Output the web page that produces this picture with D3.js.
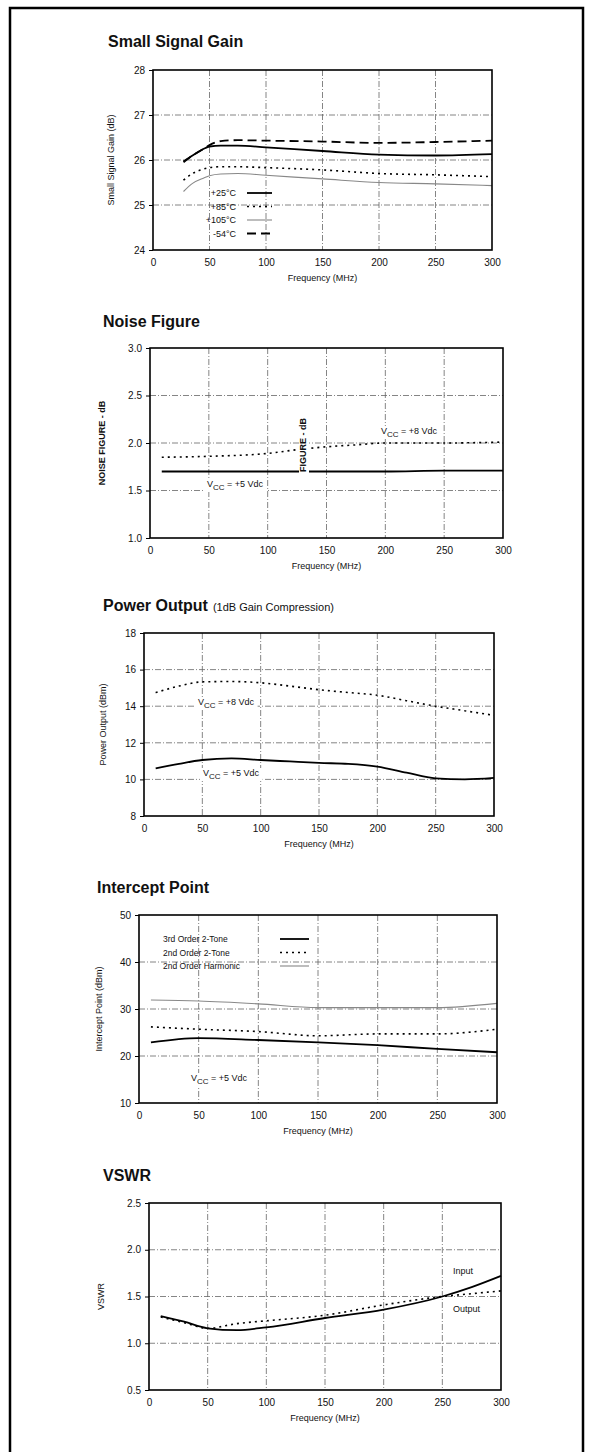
<!DOCTYPE html>
<html>
    <head>
        <title>Amplifier Typical Performance</title>
        <script src="https://d3js.org/d3.v7.min.js"></script>
        <style>
            body { margin: 0; background: #fff; }
            text { font-family: 'Liberation Sans', Arial, sans-serif; fill: #111; }
            .title { font-size: 16px; font-weight: bold; }
            .subtitle { font-size: 11px; font-weight: normal; }
            .tick-label { font-size: 10px; }
            .axis-title { font-size: 9px; }
            .note { font-size: 9px; }
            .grid { stroke: #666; stroke-width: 0.8px; stroke-dasharray: 6,2,1,2; }
            .plot-frame { fill: none; stroke: #000; stroke-width: 1.6px; }
            .line { fill: none; }
        </style>
    </head>
    <body>
        <div id="chart"></div>
        <script>
            // ---- Small Signal Gain ----
            const gainFreq = [27, 35, 45, 50, 60, 75, 100, 150, 200, 250, 300];
            const gain25 = [25.97, 26.1, 26.25, 26.3, 26.32, 26.32, 26.28, 26.2, 26.12, 26.1, 26.13];
            const gain85 = [25.55, 25.7, 25.8, 25.83, 25.85, 25.85, 25.83, 25.78, 25.7, 25.67, 25.63];
            const gain105 = [25.3, 25.48, 25.6, 25.65, 25.69, 25.7, 25.66, 25.58, 25.5, 25.47, 25.43];
            const gainM54 = [25.95, 26.1, 26.25, 26.33, 26.42, 26.44, 26.43, 26.41, 26.38, 26.4, 26.43];
            const gainLegend = ['+25\u00b0C', '+85\u00b0C', '+105\u00b0C', '-54\u00b0C'];
            const gainYTicks = [24, 25, 26, 27, 28];

            // ---- Noise Figure ----
            const noiseFreq = [10, 50, 100, 125, 150, 175, 200, 250, 300];
            const noise8 = [1.85, 1.86, 1.89, 1.93, 1.96, 1.98, 2.0, 2.0, 2.01];
            const noise5 = [1.7, 1.7, 1.7, 1.7, 1.7, 1.7, 1.7, 1.71, 1.71];
            const noiseYTicks = [1.0, 1.5, 2.0, 2.5, 3.0];

            // ---- Power Output ----
            const powerFreq = [10, 30, 50, 75, 100, 125, 150, 175, 200, 225, 250, 275, 300];
            const power8 = [14.74, 15.1, 15.33, 15.35, 15.28, 15.1, 14.9, 14.75, 14.6, 14.3, 14.0, 13.75, 13.5];
            const power5 = [10.6, 10.85, 11.06, 11.15, 11.06, 10.98, 10.9, 10.85, 10.7, 10.37, 10.06, 10.0, 10.08];
            const powerYTicks = [8, 10, 12, 14, 16, 18];

            // ---- Intercept Point ----
            const ipFreq = [10, 50, 100, 150, 200, 250, 300];
            const ip3Tone = [22.9, 23.8, 23.4, 22.9, 22.3, 21.5, 20.8];
            const ip2Tone = [26.2, 25.7, 25.2, 24.3, 24.7, 24.7, 25.7];
            const ip2Harm = [31.9, 31.7, 31.1, 30.3, 30.3, 30.3, 31.2];
            const ipLegend = ['3rd Order 2-Tone', '2nd Order 2-Tone', '2nd Order Harmonic'];
            const ipYTicks = [10, 20, 30, 40, 50];

            // ---- VSWR ----
            const vswrFreq = [10, 30, 50, 75, 100, 150, 200, 250, 275, 300];
            const vswrInput = [1.29, 1.23, 1.16, 1.14, 1.17, 1.27, 1.36, 1.5, 1.6, 1.72];
            const vswrOutput = [1.28, 1.22, 1.16, 1.21, 1.24, 1.3, 1.41, 1.5, 1.53, 1.56];
            const vswrYTicks = [0.5, 1.0, 1.5, 2.0, 2.5];

            const freqTicks = [0, 50, 100, 150, 200, 250, 300];

            const styles = {
                solid: { stroke: '#000', width: 1.8, dash: null },
                dotted: { stroke: '#000', width: 1.6, dash: '2,4' },
                gray: { stroke: '#888', width: 1.1, dash: null },
                dashed: { stroke: '#000', width: 1.8, dash: '9,5' }
            };

            const svg = d3.select('#chart').append('svg').attr('width', 589).attr('height', 1452);

            // page frame
            svg.append('path')
                .attr('d', 'M10,1452V8H583V1452')
                .attr('fill', 'none')
                .attr('stroke', '#000')
                .attr('stroke-width', 2.5);

            // text with subscript on a white patch that breaks the grid behind it
            function label(g, x, y, main, sub, rest, size) {
                const t = g.append('text').attr('x', x).attr('y', y).attr('class', 'note').style('font-size', size + 'px');
                t.append('tspan').text(main);
                t.append('tspan').attr('dy', 3).style('font-size', size - 1 + 'px').text(sub);
                t.append('tspan').attr('dy', -3).text(rest);
                const b = t.node().getBBox();
                g.insert('rect', () => t.node())
                    .attr('x', b.x - 3)
                    .attr('y', b.y)
                    .attr('width', b.width + 6)
                    .attr('height', b.height)
                    .attr('fill', '#fff');
            }

            function drawPanel(cfg) {
                const x = d3.scaleLinear().domain([0, 300]).range([cfg.left, cfg.right]);
                const y = d3.scaleLinear().domain(d3.extent(cfg.yTicks)).range([cfg.bottom, cfg.top]);
                const g = svg.append('g');

                // title
                const tt = g.append('text').attr('class', 'title').attr('x', cfg.titleX).attr('y', cfg.titleY).text(cfg.title);
                if (cfg.subtitle) tt.append('tspan').attr('class', 'subtitle').attr('dx', 5).text(cfg.subtitle);

                // grid
                g.selectAll('.vgrid')
                    .data(freqTicks.slice(1, -1))
                    .enter()
                    .append('line')
                    .attr('class', 'grid')
                    .attr('x1', (d) => x(d))
                    .attr('x2', (d) => x(d))
                    .attr('y1', cfg.top)
                    .attr('y2', cfg.bottom);
                g.selectAll('.hgrid')
                    .data(cfg.yTicks.slice(1, -1))
                    .enter()
                    .append('line')
                    .attr('class', 'grid')
                    .attr('x1', cfg.left)
                    .attr('x2', cfg.right)
                    .attr('y1', (d) => y(d))
                    .attr('y2', (d) => y(d));

                // axes (labels only, frame drawn below)
                const xAxis = g.append('g')
                    .attr('transform', `translate(0,${cfg.bottom})`)
                    .call(d3.axisBottom(x).tickValues(freqTicks).tickSize(0).tickPadding(9));
                const yAxis = g.append('g')
                    .attr('transform', `translate(${cfg.left},0)`)
                    .call(d3.axisLeft(y).tickValues(cfg.yTicks).tickSize(4).tickPadding(4).tickFormat(cfg.yFormat));
                [xAxis, yAxis].forEach((a) => {
                    a.select('.domain').remove();
                    a.selectAll('text').attr('class', 'tick-label').attr('fill', '#111');
                    a.attr('font-family', null).attr('font-size', null);
                });
                yAxis.selectAll('line').attr('stroke', '#000');

                // axis titles
                g.append('text')
                    .attr('class', 'axis-title')
                    .attr('x', (cfg.left + cfg.right) / 2)
                    .attr('y', cfg.bottom + 31)
                    .attr('text-anchor', 'middle')
                    .text('Frequency (MHz)');
                g.append('text')
                    .attr('class', 'axis-title')
                    .attr('transform', `translate(${cfg.yTitleX},${(cfg.top + cfg.bottom) / 2}) rotate(-90)`)
                    .attr('text-anchor', 'middle')
                    .style('font-weight', cfg.yTitleBold ? 'bold' : 'normal')
                    .style('font-family', cfg.yTitleBold ? "'Liberation Sans Narrow', 'Liberation Sans', sans-serif" : null)
                    .text(cfg.yTitle);

                // notes behind lines
                (cfg.notes || []).forEach((n) => label(g, n.x, n.y, n.main, n.sub, n.rest, n.size || 9));

                // series
                const line = d3
                    .line()
                    .x((d) => x(d[0]))
                    .y((d) => y(d[1]))
                    .curve(d3.curveMonotoneX);
                cfg.series.forEach((s) => {
                    const st = styles[s.style];
                    g.append('path')
                        .datum(s.freq.map((f, i) => [f, s.values[i]]))
                        .attr('class', 'line')
                        .attr('d', line)
                        .attr('stroke', st.stroke)
                        .attr('stroke-width', st.width)
                        .attr('stroke-dasharray', st.dash);
                });

                // plot frame
                g.append('rect')
                    .attr('class', 'plot-frame')
                    .attr('x', cfg.left)
                    .attr('y', cfg.top)
                    .attr('width', cfg.right - cfg.left)
                    .attr('height', cfg.bottom - cfg.top);

                // legend
                if (cfg.legend) {
                    const L = cfg.legend;
                    L.labels.forEach((txt, i) => {
                        const yy = L.y + i * L.step;
                        g.append('text')
                            .attr('class', 'note')
                            .attr('x', L.textX)
                            .attr('y', yy + 3)
                            .attr('text-anchor', L.anchor)
                            .style('font-size', L.size + 'px')
                            .text(txt);
                        const st = styles[cfg.series[i].style];
                        g.append('line')
                            .attr('x1', L.lineX1)
                            .attr('x2', L.lineX2)
                            .attr('y1', yy)
                            .attr('y2', yy)
                            .attr('stroke', st.stroke)
                            .attr('stroke-width', st.width)
                            .attr('stroke-dasharray', st.dash);
                    });
                }
                return g;
            }

            drawPanel({
                title: 'Small Signal Gain', titleX: 108, titleY: 47,
                left: 153, right: 492, top: 70, bottom: 250,
                yTicks: gainYTicks, yFormat: d3.format('d'),
                yTitle: 'Small Signal Gain (dB)', yTitleX: 114,
                series: [
                    { freq: gainFreq, values: gain25, style: 'solid' },
                    { freq: gainFreq, values: gain85, style: 'dotted' },
                    { freq: gainFreq, values: gain105, style: 'gray' },
                    { freq: gainFreq, values: gainM54, style: 'dashed' }
                ],
                legend: { labels: gainLegend, textX: 236, anchor: 'end', y: 193, step: 13.5, lineX1: 247, lineX2: 272, size: 9 }
            });

            const noise = drawPanel({
                title: 'Noise Figure', titleX: 103, titleY: 327,
                left: 150, right: 503, top: 348, bottom: 538,
                yTicks: noiseYTicks, yFormat: d3.format('.1f'),
                yTitle: 'NOISE FIGURE - dB', yTitleX: 105, yTitleBold: true,
                notes: [
                    { x: 381, y: 434, main: 'V', sub: 'CC', rest: ' = +8 Vdc' },
                    { x: 207, y: 487, main: 'V', sub: 'CC', rest: ' = +5 Vdc' }
                ],
                series: [
                    { freq: noiseFreq, values: noise8, style: 'dotted' },
                    { freq: noiseFreq, values: noise5, style: 'solid' }
                ]
            });
            // stray rotated caption inside the noise plot
            const stray = noise.append('text')
                .attr('transform', 'translate(306,445) rotate(-90)')
                .attr('text-anchor', 'middle')
                .style('font-size', '9px')
                .style('font-weight', 'bold')
                .style('font-family', "'Liberation Sans Narrow', 'Liberation Sans', sans-serif")
                .text('FIGURE - dB');
            const sb = stray.node().getBBox();
            noise.insert('rect', () => stray.node())
                .attr('x', 299)
                .attr('y', 445 - sb.width / 2 - 2)
                .attr('width', 10)
                .attr('height', sb.width + 4)
                .attr('fill', '#fff');

            drawPanel({
                title: 'Power Output', subtitle: '(1dB Gain Compression)', titleX: 103, titleY: 611,
                left: 144, right: 494, top: 633, bottom: 816,
                yTicks: powerYTicks, yFormat: d3.format('d'),
                yTitle: 'Power Output (dBm)', yTitleX: 106,
                notes: [
                    { x: 198, y: 705, main: 'V', sub: 'CC', rest: ' = +8 Vdc' },
                    { x: 203, y: 776, main: 'V', sub: 'CC', rest: ' = +5 Vdc' }
                ],
                series: [
                    { freq: powerFreq, values: power8, style: 'dotted' },
                    { freq: powerFreq, values: power5, style: 'solid' }
                ]
            });

            drawPanel({
                title: 'Intercept Point', titleX: 97, titleY: 893,
                left: 139, right: 497, top: 915, bottom: 1103,
                yTicks: ipYTicks, yFormat: d3.format('d'),
                yTitle: 'Intercept Point (dBm)', yTitleX: 102,
                notes: [{ x: 191, y: 1081, main: 'V', sub: 'CC', rest: ' = +5 Vdc' }],
                series: [
                    { freq: ipFreq, values: ip3Tone, style: 'solid' },
                    { freq: ipFreq, values: ip2Tone, style: 'dotted' },
                    { freq: ipFreq, values: ip2Harm, style: 'gray' }
                ],
                legend: { labels: ipLegend, textX: 163, anchor: 'start', y: 939, step: 13.5, lineX1: 280, lineX2: 309, size: 8.5 }
            });

            const vswr = drawPanel({
                title: 'VSWR', titleX: 103, titleY: 1181,
                left: 149, right: 501, top: 1203, bottom: 1390,
                yTicks: vswrYTicks, yFormat: d3.format('.1f'),
                yTitle: 'VSWR', yTitleX: 104,
                series: [
                    { freq: vswrFreq, values: vswrInput, style: 'solid' },
                    { freq: vswrFreq, values: vswrOutput, style: 'dotted' }
                ]
            });
            vswr.append('text').attr('class', 'note').attr('x', 453).attr('y', 1274).text('Input');
            vswr.append('text').attr('class', 'note').attr('x', 453).attr('y', 1312).text('Output');
        </script>
    </body>
</html>
